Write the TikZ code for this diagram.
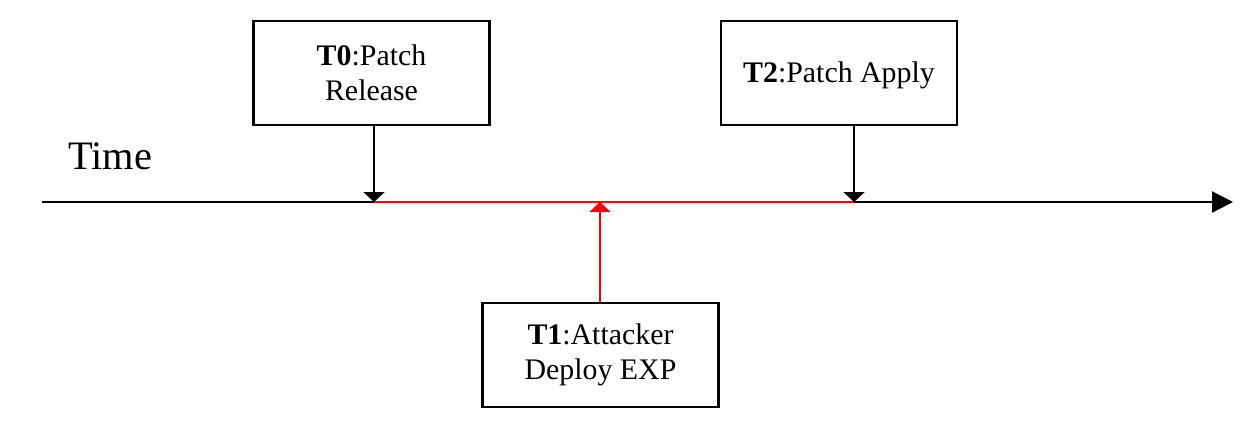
\documentclass[tikz,border=0pt]{standalone}
\usepackage{fontspec}
\setmainfont{Liberation Serif}
\usepackage{tikz}
\usetikzlibrary{arrows.meta}
\tikzstyle{event} = [rectangle,
minimum width=4.72cm,
minimum height=2.08cm,
align=center,
line width=1.4pt,
draw=black,
fill=white,
font=\fontsize{17}{20}\selectfont]
\tikzstyle{axis} = [line width=1.3pt,-{Triangle[width=0.42cm,length=0.42cm]}]
\tikzstyle{arrow} = [line width=1.3pt,-{Triangle[width=0.42cm,length=0.2cm]}]

\begin{document}
\begin{tikzpicture}[x=0.02cm, y=-0.02cm]
    \useasboundingbox (0,0) rectangle (1253,440);

    \node (release) [event] at (371.5,73) {\textbf{T0}:Patch\\Release};
    \node (apply) [event] at (839,73) {\rule{0pt}{15pt}\textbf{T2}:Patch Apply};
    \node (attack) [event] at (600.5,355) {\textbf{T1}:Attacker\\Deploy EXP};
    \node (time) [anchor=base west, inner sep=0pt, font=\fontsize{23}{26}\selectfont] at (68,169) {Time};

    \coordinate (start) at (42,202);
    \coordinate (end) at (1233,202);
    \coordinate (t0) at (374,202);
    \coordinate (t1) at (600,202);
    \coordinate (t2) at (854,202);

    \draw [axis] (start) -- (end);
    \draw [line width=1.3pt, red] (t0) -- (t2);
    \draw [arrow] (release.south -| t0) -- (t0);
    \draw [arrow] (apply.south -| t2) -- (t2);
    \draw [arrow, red] (attack.north -| t1) -- (t1);
\end{tikzpicture}
\end{document}
